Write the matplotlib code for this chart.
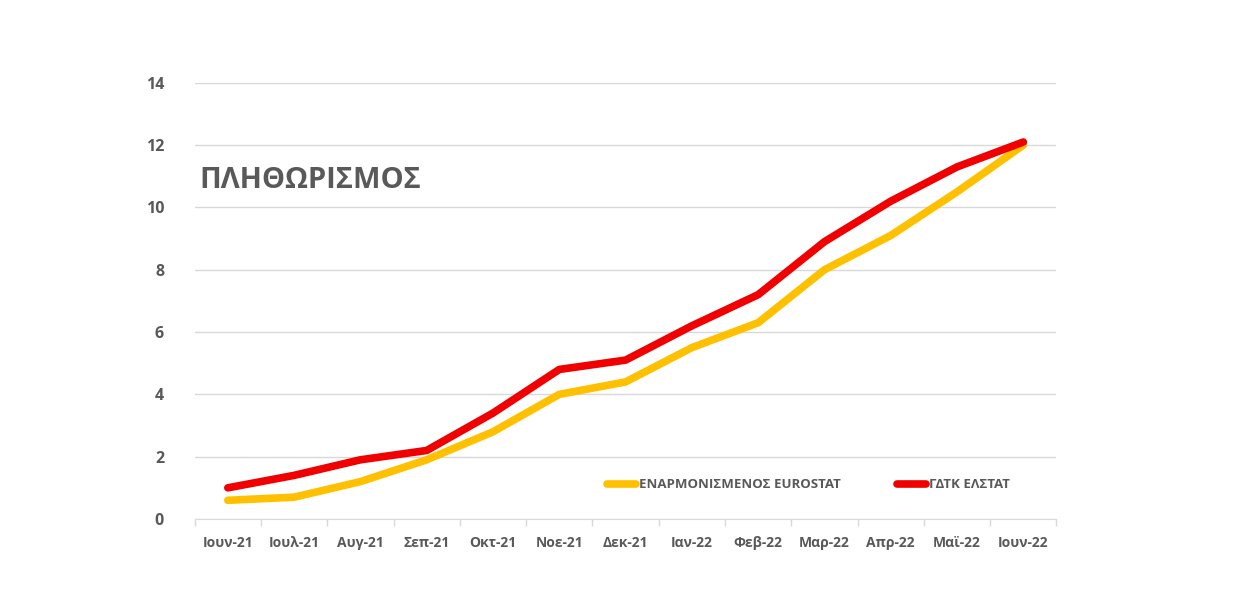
import matplotlib.pyplot as plt
import numpy as np

plt.rcParams['font.family'] = ['Open Sans', 'DejaVu Sans']

MONTHS = ['Ιουν-21', 'Ιουλ-21', 'Αυγ-21', 'Σεπ-21', 'Οκτ-21', 'Νοε-21', 'Δεκ-21',
          'Ιαν-22', 'Φεβ-22', 'Μαρ-22', 'Απρ-22', 'Μαϊ-22', 'Ιουν-22']
EUROSTAT = [0.6, 0.7, 1.2, 1.9, 2.8, 4.0, 4.4, 5.5, 6.3, 8.0, 9.1, 10.5, 12.0]
ELSTAT   = [1.0, 1.4, 1.9, 2.2, 3.4, 4.8, 5.1, 6.2, 7.2, 8.9, 10.2, 11.3, 12.1]
YTICKS   = [0, 2, 4, 6, 8, 10, 12, 14]

GRAY = '#595959'

fig = plt.figure(figsize=(12.4, 6), dpi=100)
ax = fig.add_axes([0.157, 0.135, 0.695, 0.727])

x = np.arange(len(MONTHS))
ax.plot(x, EUROSTAT, color='#FFC000', lw=5.5, solid_capstyle='round',
        solid_joinstyle='round', label='ΕΝΑΡΜΟΝΙΣΜΕΝΟΣ EUROSTAT', zorder=3)
ax.plot(x, ELSTAT, color='#F00000', lw=5.5, solid_capstyle='round',
        solid_joinstyle='round', label='ΓΔΤΚ ΕΛΣΤΑΤ', zorder=4)

ax.set_xlim(-0.5, len(MONTHS) - 0.5)
ax.set_ylim(0, 14)
ax.set_yticks(YTICKS)
ax.set_yticklabels([str(v) for v in YTICKS], fontsize=11.5, fontweight='bold', color=GRAY)
ax.grid(axis='y', color='#D9D9D9', lw=1)
ax.set_axisbelow(True)

# category boundaries as ticks, labels at the centres
ax.set_xticks(np.arange(-0.5, len(MONTHS), 1))
ax.set_xticklabels([])
ax.tick_params(axis='x', which='major', length=5, color='#D9D9D9', width=1)
ax.set_xticks(x, minor=True)
ax.set_xticklabels(MONTHS, minor=True, fontsize=10, fontweight='bold', color=GRAY)
ax.tick_params(axis='x', which='minor', length=0, pad=12)
ax.tick_params(axis='y', length=0, pad=22)

for s in ['top', 'right', 'left']:
    ax.spines[s].set_visible(False)
ax.spines['bottom'].set_color('#D9D9D9')

ax.text(0.006, 0.775, 'ΠΛΗΘΩΡΙΣΜΟΣ', transform=ax.transAxes, fontsize=21,
        fontweight='bold', color=GRAY, va='center', ha='left')

leg = ax.legend(loc='center', bbox_to_anchor=(0.712, 0.078), ncol=2, frameon=False,
                handlelength=2.2, handletextpad=0.2, columnspacing=4.3,
                prop={'size': 9.5, 'weight': 'bold'})
for t in leg.get_texts():
    t.set_color(GRAY)

fig.savefig('out.png', dpi=100)
